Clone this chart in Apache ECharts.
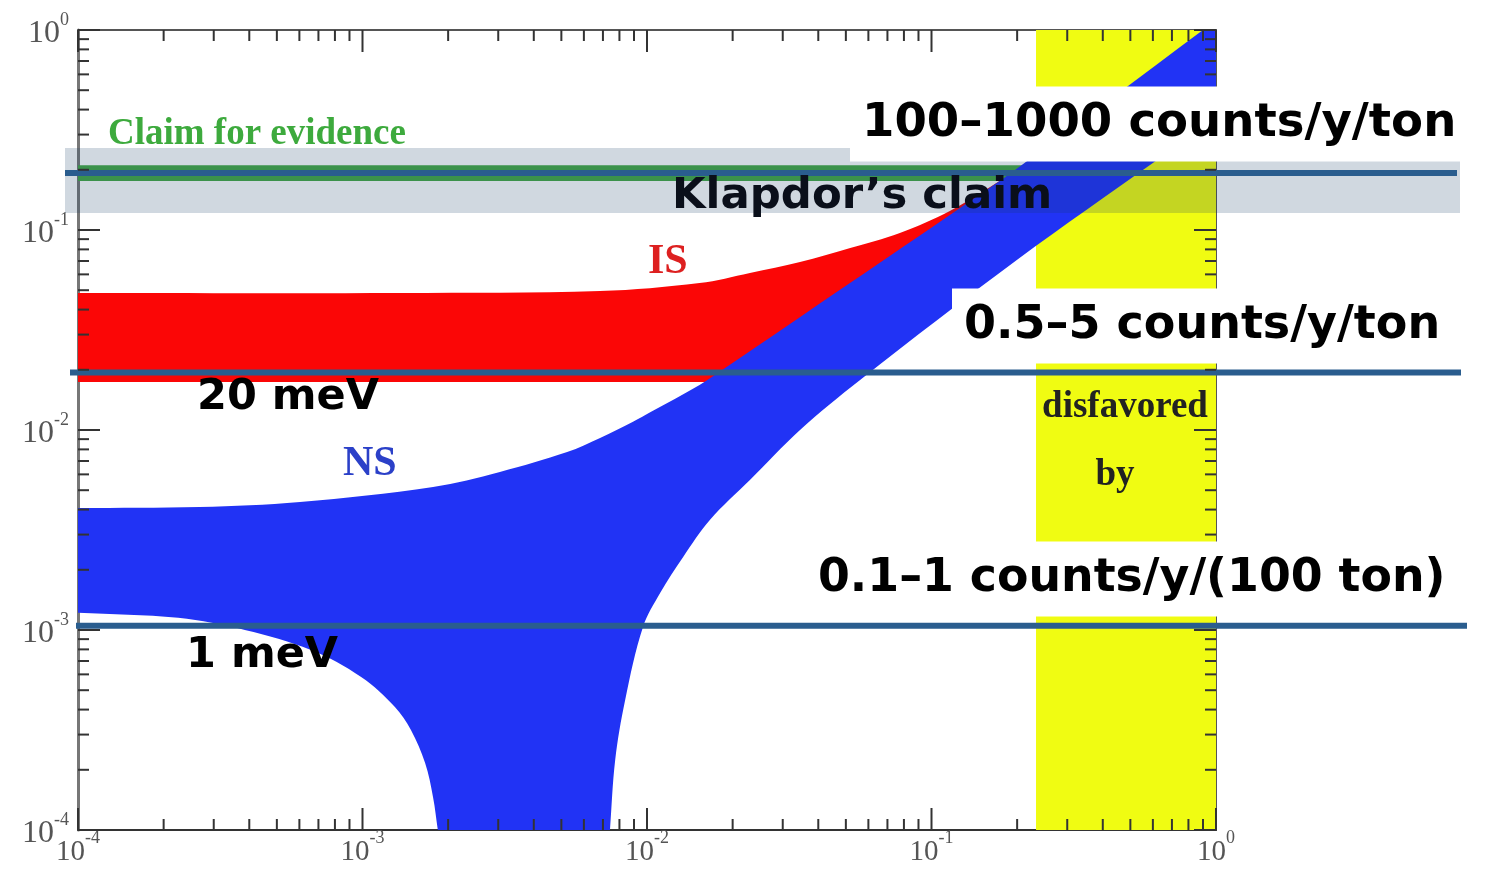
<!DOCTYPE html>
<html>
<head>
<meta charset="utf-8">
<title>Effective Majorana mass vs lightest neutrino mass</title>
<script src="https://cdn.jsdelivr.net/npm/echarts@6.0.0/dist/echarts.min.js"></script>
<style>
  html, body { margin: 0; padding: 0; background: #fff; }
  #chart { width: 1487px; height: 880px; }
</style>
</head>
<body>
<div id="chart"></div>
<script>
// --- data: [lightest mass, effective mass] ---
const nsUpperEdge = [
  [1e-4, 4.07e-3], [2.68e-4, 4.12e-3], [6.03e-4, 4.37e-3], [1.77e-3, 5.19e-3],
  [3.04e-3, 6.17e-3], [5.24e-3, 7.76e-3], [6.84e-3, 9.12e-3], [8.93e-3, 1.10e-2],
  [1.03e-2, 1.23e-2], [1.53e-2, 1.68e-2], [1.91e-2, 2.07e-2], [0.0517, 0.0543],
  [0.126, 0.129], [0.1966, 0.1995], [0.90, 1]
]
const nsTopRight = [[1, 1]]
const nsLowerRightEdge = [
  [1, 0.359], [0.621, 0.224], [0.1995, 0.0708], [0.0561, 0.0178],
  [0.0345, 0.01], [0.0230, 5.62e-3], [0.01663, 3.55e-3], [0.0134, 2.32e-3],
  [0.01112, 1.53e-3], [9.68e-3, 1.035e-3], [8.38e-3, 4.47e-4], [7.73e-3, 2.24e-4],
  [7.41e-3, 1e-4]
]
const nsLowerLeftEdge = [
  [1.84e-3, 1e-4], [1.77e-3, 1.46e-4], [1.66e-3, 2.16e-4], [1.48e-3, 3.16e-4],
  [1.30e-3, 4.12e-4], [9.89e-4, 5.82e-4], [6.59e-4, 7.94e-4], [3.86e-4, 1.0e-3],
  [2.25e-4, 1.15e-3], [1e-4, 1.22e-3]
]
const isUpperEdge = [
  [1e-4, 0.0484], [1.36e-3, 0.0484], [6.84e-3, 0.0495], [1.53e-2, 0.0543],
  [0.0230, 0.061], [0.0345, 0.0692], [0.0518, 0.0813], [0.0774, 0.0966],
  [0.116, 0.1245], [0.154, 0.158], [0.189, 0.1905]
]
// part of the IS band that runs under the NS band
const isHiddenEdge = [[0.189, 0.141], [0.0196, 0.0174]]
const isLowerEdge = [[0.0196, 0.0174], [1e-4, 0.0174]]

const cosmoDisfavoredX = [0.233, 1]
const claimEvidenceX = [1e-4, 0.23]
const claimEvidenceY = [0.176, 0.211]
const klapdorBandY = [0.1216, 0.257]
const countLevels = [0.193, 0.0194, 1.05e-3]

const majorTicks = [1e-4, 1e-3, 1e-2, 1e-1, 1]
const minorTicks = [
  2e-4, 3e-4, 4e-4, 5e-4, 6e-4, 7e-4, 8e-4, 9e-4,
  2e-3, 3e-3, 4e-3, 5e-3, 6e-3, 7e-3, 8e-3, 9e-3,
  2e-2, 3e-2, 4e-2, 5e-2, 6e-2, 7e-2, 8e-2, 9e-2,
  0.2, 0.3, 0.4, 0.5, 0.6, 0.7, 0.8, 0.9
]

const BLUE = '#2133f5'
const RED = '#fb0606'
const YELLOW = '#f0fc12'
const LINE_BLUE = '#2a5d8e'

const chart = echarts.init(document.getElementById('chart'))

// each edge is smoothed on its own, the joins between edges stay sharp
const bandSeries = (edges, color, z, smooth) => ({
  type: 'custom',
  z: z,
  silent: true,
  clip: false,
  data: [edges[0][0]],
  renderItem: (params, api) => {
    const pts = []
    edges.forEach(edge => {
      const px = edge.map(p => api.coord(p))
      pts.push(px[0])
      px.forEach(p => pts.push(p))
      pts.push(px[px.length - 1])
    })
    return {
      type: 'polygon',
      shape: { points: pts, smooth: smooth },
      style: { fill: color }
    }
  }
})

// wide bands/lines reach out past the frame like in the slide
const wideRect = (yRange, left, right, style, z) => ({
  type: 'custom',
  z: z,
  silent: true,
  clip: false,
  data: [[1, yRange[0]]],
  renderItem: (params, api) => {
    const cs = params.coordSys
    const y1 = api.coord([1, yRange[1]])[1]
    const y2 = api.coord([1, yRange[0]])[1]
    return {
      type: 'rect',
      shape: { x: cs.x - left, y: y1, width: cs.width + left + right, height: y2 - y1 },
      style: style
    }
  }
})

const lineReach = [[13, 241], [8, 245], [2, 251]]
const countLineSeries = {
  type: 'custom',
  z: 12,
  silent: true,
  clip: false,
  data: countLevels.map(v => [1, v]),
  renderItem: (params, api) => {
    const cs = params.coordSys
    const y = api.coord([1, api.value(1)])[1]
    const r = lineReach[params.dataIndex]
    return {
      type: 'line',
      shape: { x1: cs.x - r[0], y1: y, x2: cs.x + cs.width + r[1], y2: y },
      style: { stroke: LINE_BLUE, lineWidth: 6 }
    }
  }
}

const xTickSeries = (values, len) => ({
  type: 'custom',
  z: 20,
  silent: true,
  clip: false,
  data: values.map(v => [v, 1]),
  renderItem: (params, api) => {
    const cs = params.coordSys
    const x = api.coord([api.value(0), 1])[0]
    const st = { stroke: '#333', lineWidth: 2 }
    return {
      type: 'group',
      children: [
        { type: 'line', shape: { x1: x, y1: cs.y + cs.height, x2: x, y2: cs.y + cs.height - len }, style: st },
        { type: 'line', shape: { x1: x, y1: cs.y, x2: x, y2: cs.y + len }, style: st }
      ]
    }
  }
})

const yTickSeries = (values, len) => ({
  type: 'custom',
  z: 20,
  silent: true,
  clip: false,
  data: values.map(v => [1, v]),
  renderItem: (params, api) => {
    const cs = params.coordSys
    const y = api.coord([1, api.value(1)])[1]
    const st = { stroke: '#333', lineWidth: 2 }
    return {
      type: 'group',
      children: [
        { type: 'line', shape: { x1: cs.x, y1: y, x2: cs.x + len, y2: y }, style: st },
        { type: 'line', shape: { x1: cs.x + cs.width, y1: y, x2: cs.x + cs.width - len, y2: y }, style: st }
      ]
    }
  }
})

const powerLabel = (size, margin) => ({
  margin: margin,
  fontFamily: 'Liberation Serif',
  color: '#555',
  formatter: v => '{b|10}{s|' + Math.round(Math.log10(v)) + '}',
  rich: {
    b: { fontSize: size, lineHeight: 28, fontFamily: 'Liberation Serif', color: '#555', padding: [8, 0, 0, 0] },
    s: { fontSize: 18, lineHeight: 18, fontFamily: 'Liberation Serif', color: '#555', padding: [0, 0, 20, 0] }
  }
})

const boxedLabel = (text, x, y, size) => ({
  type: 'text', x: x, y: y, z: 100, silent: true,
  style: {
    text: text, font: 'bold ' + size + 'px "DejaVu Sans"', fill: '#000',
    align: 'left', verticalAlign: 'middle', textAlign: 'left', textVerticalAlign: 'middle',
    backgroundColor: '#fff', padding: [10, 12], lineHeight: 55
  }
})
const plainLabel = (text, x, y, font, color, align) => ({
  type: 'text', x: x, y: y, z: 100, silent: true,
  style: {
    text: text, font: font, fill: color,
    align: align || 'left', verticalAlign: 'middle',
    textAlign: align || 'left', textVerticalAlign: 'middle'
  }
})

const option = {
  animation: false,
  backgroundColor: '#fff',
  grid: {
    left: 78, right: 271, top: 30, bottom: 50,
    containLabel: false, outerBoundsMode: 'none',
    show: true, borderColor: '#555', borderWidth: 2, backgroundColor: 'transparent'
  },
  xAxis: {
    type: 'log', logBase: 10, min: 1e-4, max: 1,
    axisLine: { show: true, lineStyle: { color: '#333', width: 2 } },
    axisTick: { show: false },
    splitLine: { show: false },
    axisLabel: powerLabel(29, 4)
  },
  yAxis: {
    type: 'log', logBase: 10, min: 1e-4, max: 1,
    axisLine: { show: true, lineStyle: { color: '#777', width: 3 } },
    axisTick: { show: false },
    splitLine: { show: false },
    axisLabel: powerLabel(32, 9)
  },
  series: [
    bandSeries([[
      [cosmoDisfavoredX[0], 1e-4], [cosmoDisfavoredX[1], 1e-4],
      [cosmoDisfavoredX[1], 1], [cosmoDisfavoredX[0], 1]
    ]], YELLOW, 2, 0),
    bandSeries([isUpperEdge, isHiddenEdge, isLowerEdge], RED, 3, 0.35),
    bandSeries([[
      [claimEvidenceX[0], claimEvidenceY[0]], [claimEvidenceX[1], claimEvidenceY[0]],
      [claimEvidenceX[1], claimEvidenceY[1]], [claimEvidenceX[0], claimEvidenceY[1]]
    ]], '#45a845', 4, 0),
    bandSeries([nsUpperEdge, nsTopRight, nsLowerRightEdge, nsLowerLeftEdge], BLUE, 5, 0.35),
    wideRect(klapdorBandY, 13, 244, { fill: 'rgba(20,60,100,0.2)' }, 10),
    countLineSeries,
    xTickSeries(majorTicks, 22),
    xTickSeries(minorTicks, 11),
    yTickSeries(majorTicks, 22),
    yTickSeries(minorTicks, 11)
  ],
  graphic: [
    plainLabel('Claim for evidence', 108, 134, 'bold 37px "Liberation Serif"', '#3daa3d'),
    plainLabel('IS', 648, 262, 'bold 42px "Liberation Serif"', '#dd2020'),
    plainLabel('NS', 343, 464, 'bold 42px "Liberation Serif"', '#2b40c8'),
    plainLabel('disfavored', 1125, 407, 'bold 37px "Liberation Serif"', '#222', 'center'),
    plainLabel('by', 1115, 475, 'bold 37px "Liberation Serif"', '#222', 'center'),
    boxedLabel('100–1000 counts/y/ton', 850, 124, 46.6),
    plainLabel('Klapdor’s claim', 672, 197, 'bold 43.4px "DejaVu Sans"', '#0a0f1a'),
    boxedLabel('0.5–5 counts/y/ton', 952, 326, 46),
    plainLabel('20 meV', 197, 398, 'bold 43px "DejaVu Sans"', '#000'),
    boxedLabel('0.1–1 counts/y/(100 ton)', 806, 579, 45.8),
    plainLabel('1 meV', 186, 656, 'bold 43px "DejaVu Sans"', '#000')
  ]
}

chart.setOption(option)
</script>
</body>
</html>
